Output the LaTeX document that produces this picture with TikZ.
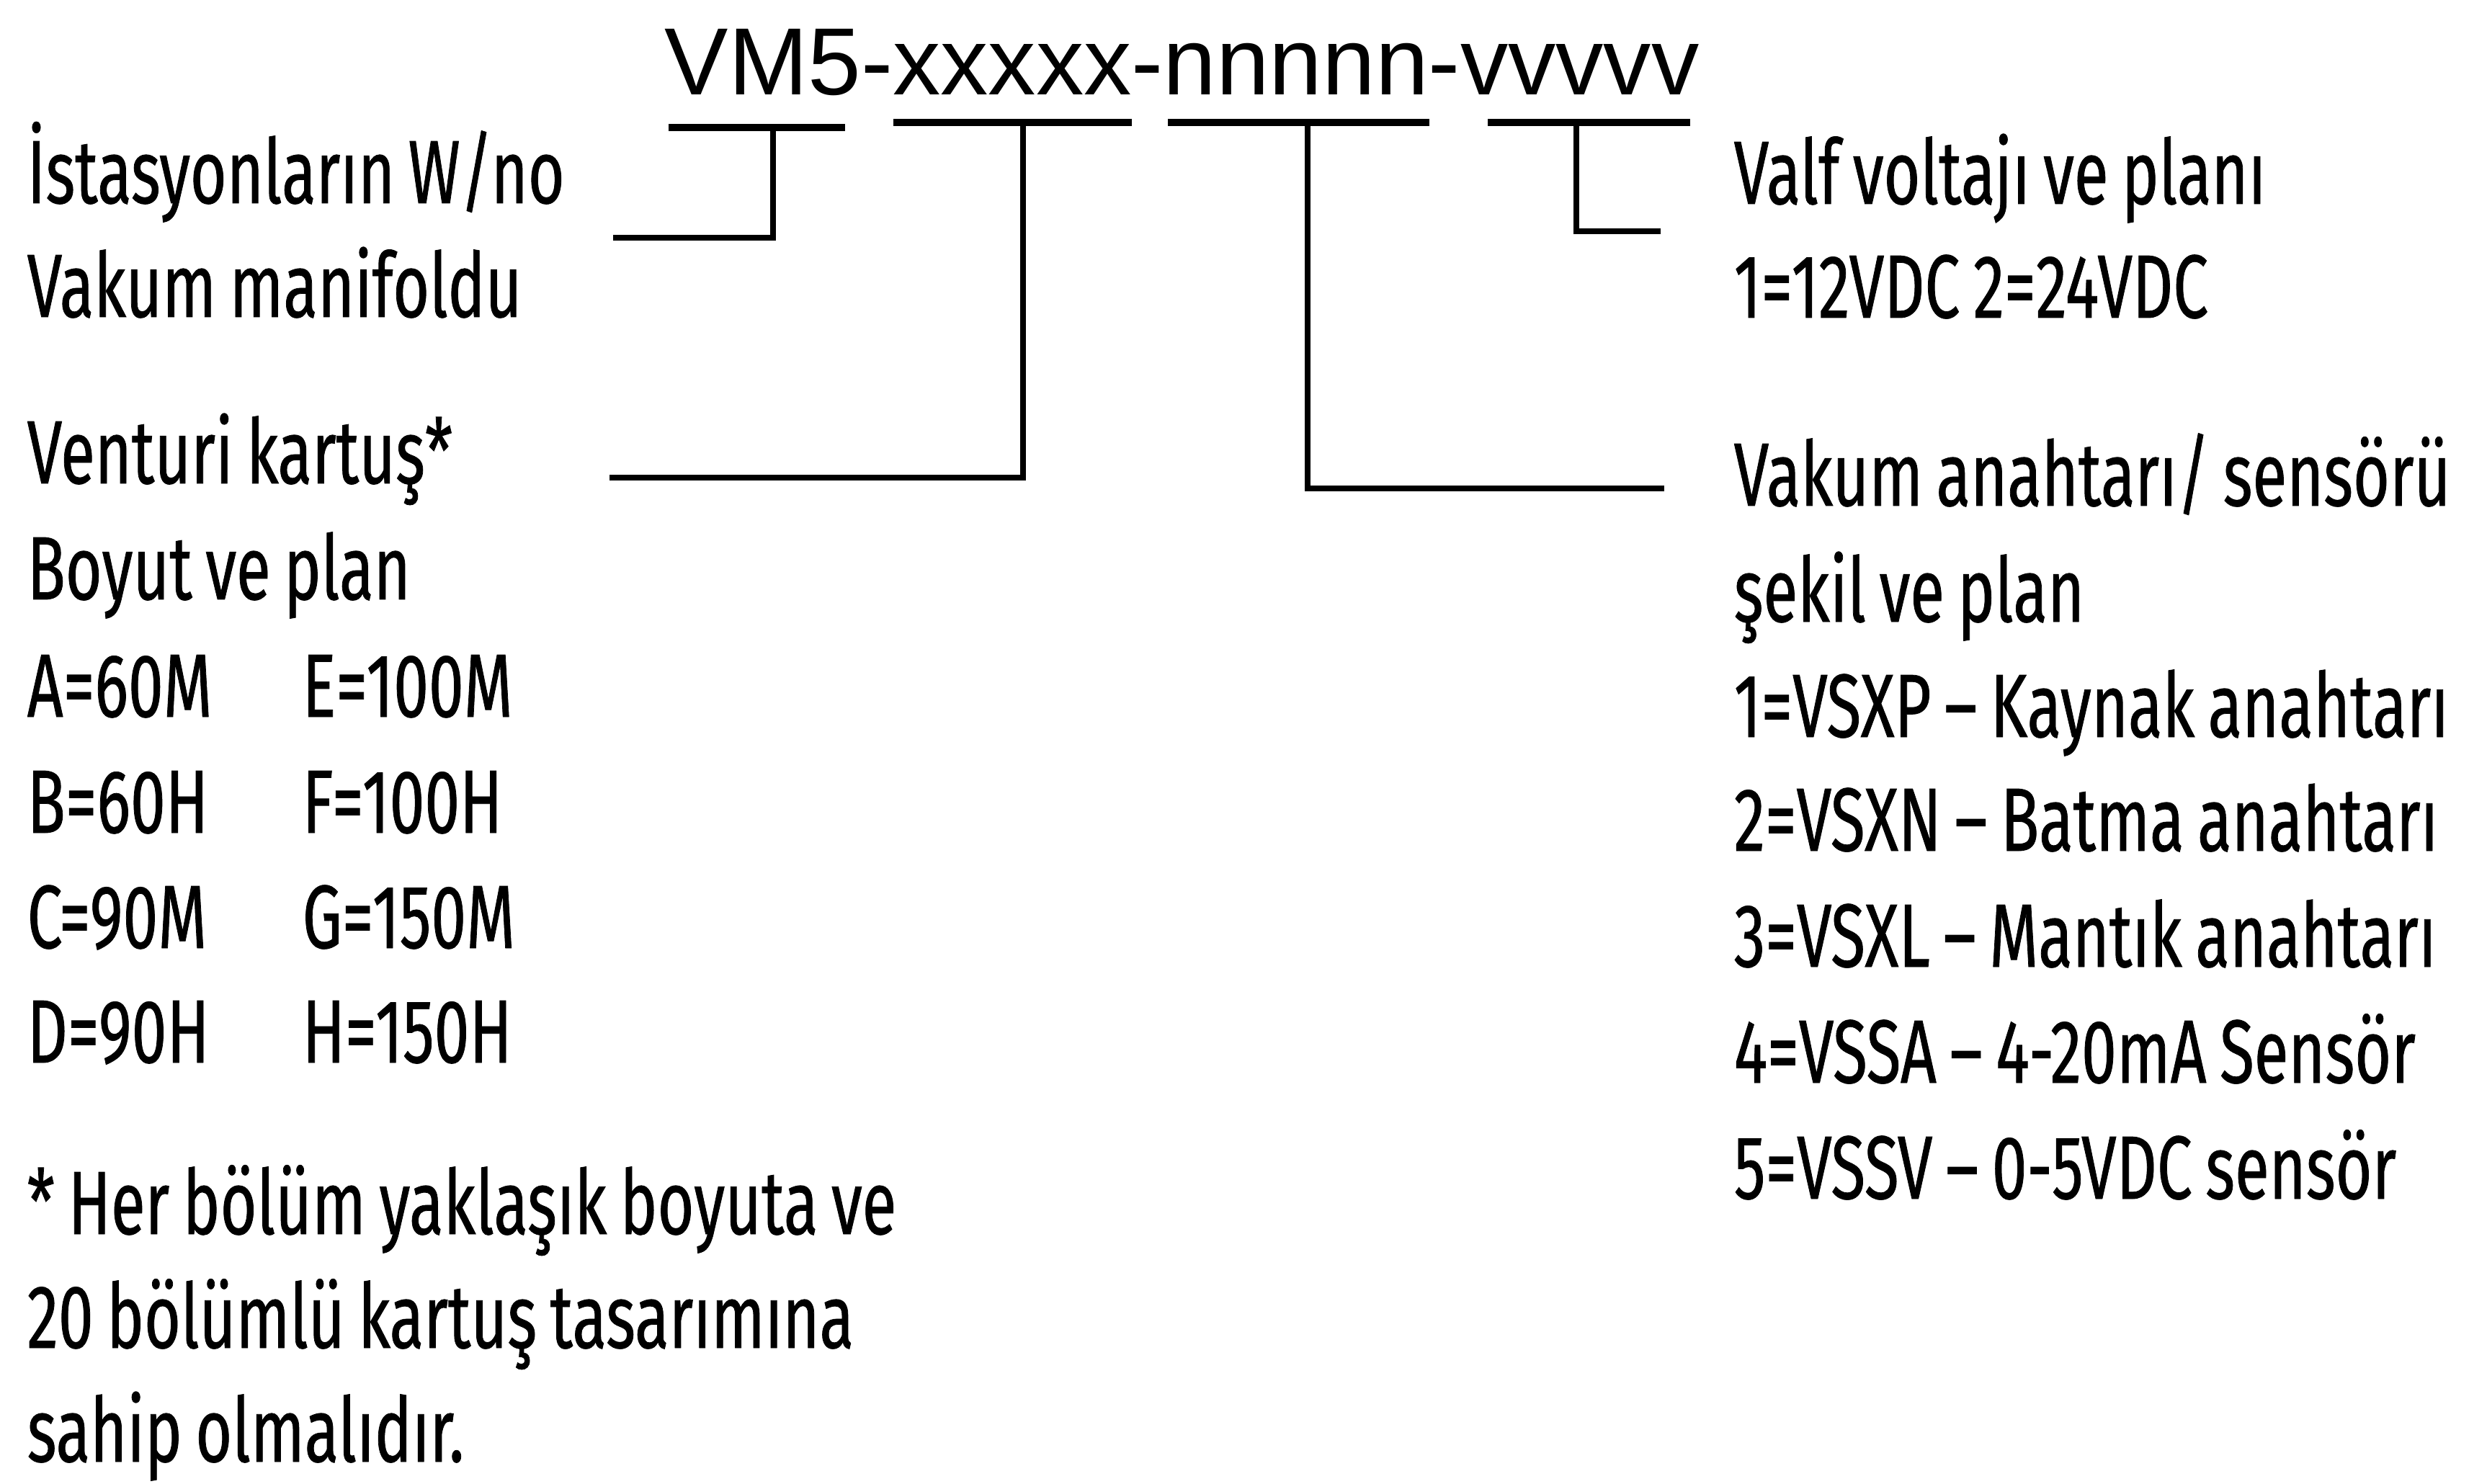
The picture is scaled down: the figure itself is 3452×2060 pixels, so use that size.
\documentclass[tikz,border=0pt]{standalone}
\usepackage{fontspec}
\setmainfont{Fira Sans}[FakeStretch=0.70, FakeBold=0.6, WordSpace=0.8]
\newfontfamily\codefont{Liberation Sans}
\usetikzlibrary{positioning}

\begin{document}
\begin{tikzpicture}[
    x=0.1mm,
    y=-0.1mm,
    lbl/.style={
        anchor=base west,
        inner sep=0pt,
        font=\fontsize{35.5}{45}\selectfont
    },
    code/.style={
        anchor=base west,
        inner sep=0pt,
        font=\codefont\fontsize{37.7}{45}\selectfont
    },
    bar/.style={line width=3.1pt},
    leader/.style={line width=2.4pt, line join=miter}
]
\useasboundingbox (0,0) rectangle (3452,2060);

% ============================================================
% KOD
% ============================================================
\node[code] (kod) at (922,132) {VM5-xxxxx-nnnnn-vvvvv};

\coordinate (b1l) at (928,177);  \coordinate (b1r) at (1173,177);
\coordinate (b2l) at (1240,170); \coordinate (b2r) at (1571,170);
\coordinate (b3l) at (1621,170); \coordinate (b3r) at (1984,170);
\coordinate (b4l) at (2065,170); \coordinate (b4r) at (2346,170);

\draw[bar] (b1l) -- (b1r);
\draw[bar] (b2l) -- (b2r);
\draw[bar] (b3l) -- (b3r);
\draw[bar] (b4l) -- (b4r);

% ============================================================
% SOL TARAF
% ============================================================
\node[lbl] (ist)  at (37,282)  {İstasyonların W/no};
\node[lbl] (vak)  at (37,440)  {Vakum manifoldu};
\node[lbl] (ven)  at (37,671)  {Venturi kartuş*};
\node[lbl] (boy)  at (37,832)  {Boyut ve plan};
\node[lbl] (szA)  at (37,995)  {A=60M};
\node[lbl] (szE)  at (419,995) {E=100M};
\node[lbl] (szB)  at (37,1156) {B=60H};
\node[lbl] (szF)  at (419,1156) {F=100H};
\node[lbl] (szC)  at (37,1316) {C=90M};
\node[lbl] (szG)  at (419,1316) {G=150M};
\node[lbl] (szD)  at (37,1475) {D=90H};
\node[lbl] (szH)  at (419,1475) {H=150H};
\node[lbl] (not1) at (37,1713) {* Her bölüm yaklaşık boyuta ve};
\node[lbl] (not2) at (37,1871) {20 bölümlü kartuş tasarımına};
\node[lbl] (not3) at (37,2029) {sahip olmalıdır.};

% ============================================================
% SAĞ TARAF
% ============================================================
\node[lbl] (valf) at (2406,283)  {Valf voltajı ve planı};
\node[lbl] (volt) at (2406,441)  {1=12VDC 2=24VDC};
\node[lbl] (anh)  at (2406,702)  {Vakum anahtarı/ sensörü};
\node[lbl] (sek)  at (2406,863)  {şekil ve plan};
\node[lbl] (s1)   at (2406,1023) {1=VSXP – Kaynak anahtarı};
\node[lbl] (s2)   at (2406,1181) {2=VSXN – Batma anahtarı};
\node[lbl] (s3)   at (2406,1342) {3=VSXL – Mantık anahtarı};
\node[lbl] (s4)   at (2406,1503) {4=VSSA – 4-20mA Sensör};
\node[lbl] (s5)   at (2406,1664) {5=VSSV – 0-5VDC sensör};

% ============================================================
% BAĞLANTILAR
% ============================================================
\coordinate (t1) at (1073,177);  \coordinate (e1) at (851,330);
\coordinate (t2) at (1420,170);  \coordinate (e2) at (846,663);
\coordinate (t3) at (1815,170);  \coordinate (e3) at (2310,678);
\coordinate (t4) at (2188,170);  \coordinate (e4) at (2305,321);

\draw[leader] (t1) |- (e1);
\draw[leader] (t2) |- (e2);
\draw[leader] (t3) |- (e3);
\draw[leader] (t4) |- (e4);

\end{tikzpicture}
\end{document}
